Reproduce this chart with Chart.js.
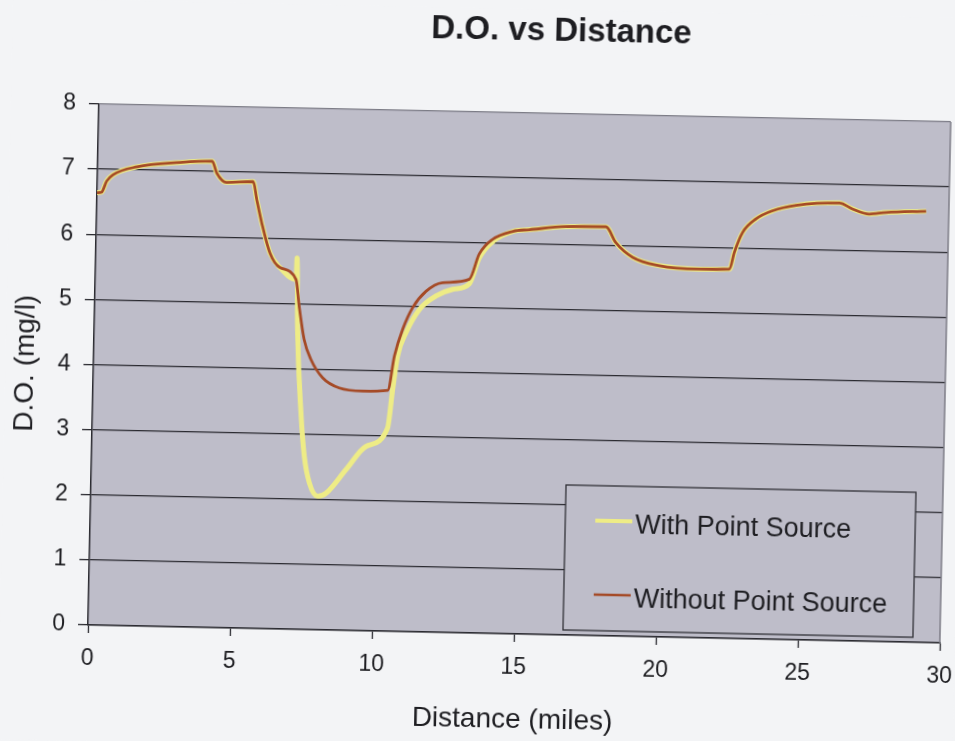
<!DOCTYPE html>
<html>
<head>
<meta charset="utf-8">
<title>D.O. vs Distance</title>
<script src="https://cdn.jsdelivr.net/npm/chart.js@4/dist/chart.umd.min.js"></script>
<style>
  html, body { margin: 0; padding: 0; background: #f3f4f6; overflow: hidden; }
  canvas { display: block; transform: rotate(1.2deg); transform-origin: 88px 625px; }
</style>
</head>
<body>
<canvas id="chart" width="955" height="741"></canvas>
<script>
// Dissolved oxygen along the reach, with and without the point-source discharge
const milesWithout = [0, 0.16, 0.33, 0.55, 1.39, 2.9, 4.03, 4.2, 4.55, 5.49, 5.63, 5.82, 6.13, 6.49, 7.07,
  7.2, 7.4, 7.65, 8.08, 8.67, 9.5, 10.38, 10.59, 10.86, 11.2, 11.65, 12.23, 13.17, 13.5, 13.96,
  14.67, 15.25, 16.53, 17.94, 18.3, 18.9, 19.85, 21.26, 22.32, 22.48, 22.76, 23.22, 23.8, 24.62,
  26.14, 26.62, 27.2, 27.79, 29.2];
const doWithout = [6.64, 6.65, 6.82, 6.92, 7.05, 7.13, 7.16, 6.98, 6.84, 6.86, 6.58, 6.23, 5.77, 5.55, 5.37,
  4.96, 4.45, 4.15, 3.87, 3.72, 3.68, 3.70, 4.23, 4.64, 4.98, 5.23, 5.37, 5.43, 5.82, 6.05,
  6.18, 6.21, 6.27, 6.28, 6.04, 5.82, 5.70, 5.66, 5.67, 5.93, 6.24, 6.45, 6.58, 6.67,
  6.72, 6.63, 6.56, 6.59, 6.62];

const milesWith = [0, 0.16, 0.33, 0.55, 1.39, 2.9, 4.03, 4.2, 4.55, 5.49, 5.63, 5.82, 6.13, 6.49, 7.07,
  7.09, 7.16, 7.34, 7.49, 7.69, 7.99, 8.28, 8.97, 9.65, 10.4, 10.55, 10.7, 10.98, 11.43, 12.0,
  12.59, 13.17, 13.5, 14.0, 14.67, 15.25, 16.53, 17.94, 18.3, 18.9, 19.85, 21.26, 22.32, 22.48,
  22.76, 23.22, 23.8, 24.62, 26.14, 26.62, 27.2, 27.79, 29.2];
const doWith = [6.64, 6.65, 6.82, 6.92, 7.05, 7.13, 7.16, 6.98, 6.84, 6.86, 6.58, 6.23, 5.77, 5.55, 5.37,
  5.70, 4.60, 3.33, 2.66, 2.25, 2.05, 2.10, 2.47, 2.83, 3.12, 3.71, 4.23, 4.59, 4.95, 5.16,
  5.27, 5.36, 5.76, 6.03, 6.18, 6.21, 6.27, 6.28, 6.04, 5.82, 5.70, 5.66, 5.67, 5.93,
  6.24, 6.45, 6.58, 6.67, 6.72, 6.63, 6.56, 6.59, 6.62];

const seriesNames = ['With Point Source', 'Without Point Source'];
const xTicks = [0, 5, 10, 15, 20, 25, 30];
const yTicks = [0, 1, 2, 3, 4, 5, 6, 7, 8];

const FONT = "'Liberation Sans', Arial, sans-serif";
const INK = '#1e1e22';
const PAGE = '#f3f4f6';
const PLOT = '#bebdc9';
const YELLOW = '#eeec86';
const BROWN = '#a54a26';

const toPoints = (xs, ys) => xs.map((x, i) => ({ x: x, y: ys[i] }));

// Page fill, plot-area fill and the grey frame on the top/right edges
const plotFrame = {
  id: 'plotFrame',
  beforeDraw(chart) {
    const { ctx, chartArea: a } = chart;
    ctx.save();
    ctx.fillStyle = PAGE;
    ctx.fillRect(0, 0, chart.width, chart.height);
    ctx.fillStyle = PLOT;
    ctx.fillRect(a.left, a.top, a.right - a.left, a.bottom - a.top);
    ctx.restore();
  },
  beforeDatasetsDraw(chart) {
    const { ctx, chartArea: a } = chart;
    ctx.save();
    ctx.strokeStyle = '#7c7c86';
    ctx.lineWidth = 1.5;
    ctx.beginPath();
    ctx.moveTo(a.right, a.top);
    ctx.lineTo(a.right, a.bottom);
    ctx.stroke();
    ctx.restore();
  }
};

// Chart heading
const heading = {
  id: 'heading',
  afterDraw(chart) {
    const ctx = chart.ctx;
    ctx.save();
    ctx.fillStyle = INK;
    ctx.font = "bold 33px " + FONT;
    ctx.textAlign = 'center';
    ctx.textBaseline = 'middle';
    ctx.fillText('D.O. vs Distance', 549, 22);
    ctx.restore();
  }
};

// Boxed legend sitting inside the plot area
const boxedLegend = {
  id: 'boxedLegend',
  afterDraw(chart) {
    const ctx = chart.ctx;
    const box = { x: 563, y: 475, w: 350, h: 145 };
    ctx.save();
    ctx.fillStyle = PLOT;
    ctx.fillRect(box.x, box.y, box.w, box.h);
    ctx.strokeStyle = '#303036';
    ctx.lineWidth = 1.3;
    ctx.strokeRect(box.x, box.y, box.w, box.h);
    const rows = [513, 587];
    chart.data.datasets.forEach((ds, i) => {
      const y = rows[i];
      ctx.strokeStyle = ds.borderColor;
      ctx.lineWidth = i === 0 ? 4 : 2.5;
      ctx.beginPath();
      ctx.moveTo(593, y - 3);
      ctx.lineTo(630, y - 3);
      ctx.stroke();
      ctx.fillStyle = INK;
      ctx.font = "27px " + FONT;
      ctx.textAlign = 'left';
      ctx.textBaseline = 'middle';
      ctx.fillText(ds.label, 633, y + 2);
    });
    ctx.restore();
  }
};

new Chart(document.getElementById('chart'), {
  type: 'line',
  data: {
    datasets: [
      {
        label: seriesNames[0],
        data: toPoints(milesWith, doWith),
        borderColor: YELLOW,
        borderWidth: 5,
        pointRadius: 0,
        cubicInterpolationMode: 'monotone',
        order: 1
      },
      {
        label: seriesNames[1],
        data: toPoints(milesWithout, doWithout),
        borderColor: BROWN,
        borderWidth: 2.8,
        pointRadius: 0,
        cubicInterpolationMode: 'monotone',
        order: 0
      }
    ]
  },
  options: {
    responsive: false,
    animation: false,
    devicePixelRatio: 1,
    layout: { padding: { top: 104, right: 15, left: 0, bottom: 0 } },
    plugins: {
      legend: { display: false },
      tooltip: { enabled: false }
    },
    scales: {
      x: {
        type: 'linear',
        min: 0,
        max: 30,
        afterBuildTicks(scale) { scale.ticks = xTicks.map(v => ({ value: v })); },
        afterFit(scale) { scale.height = 116; scale.paddingLeft = 0; scale.paddingRight = 0; },
        grid: { drawOnChartArea: false, tickLength: 8, tickColor: '#2a2a30', tickWidth: 1.3 },
        border: { color: '#2a2a30', width: 1.5 },
        ticks: { color: INK, font: { family: FONT, size: 23 }, padding: 12, maxRotation: 0, autoSkip: false },
        title: { display: true, text: 'Distance (miles)', color: INK, font: { family: FONT, size: 28 }, padding: { top: 0, bottom: 13 } }
      },
      y: {
        min: 0,
        max: 8,
        afterBuildTicks(scale) { scale.ticks = yTicks.map(v => ({ value: v })); },
        afterFit(scale) { scale.width = 88; scale.paddingTop = 0; scale.paddingBottom = 0; },
        grid: {
          color: ctx => (ctx.tick && ctx.tick.value === 8 ? '#7c7c86' : '#2a2a30'),
          lineWidth: 1.3,
          tickLength: 10,
          tickColor: '#2a2a30'
        },
        border: { color: '#2a2a30', width: 1.5 },
        ticks: { color: INK, font: { family: FONT, size: 23 }, padding: 13 },
        title: { display: true, text: 'D.O. (mg/l)', color: INK, font: { family: FONT, size: 28 }, padding: { top: 3, bottom: 0 } }
      }
    }
  },
  plugins: [plotFrame, heading, boxedLegend]
});
</script>
</body>
</html>
